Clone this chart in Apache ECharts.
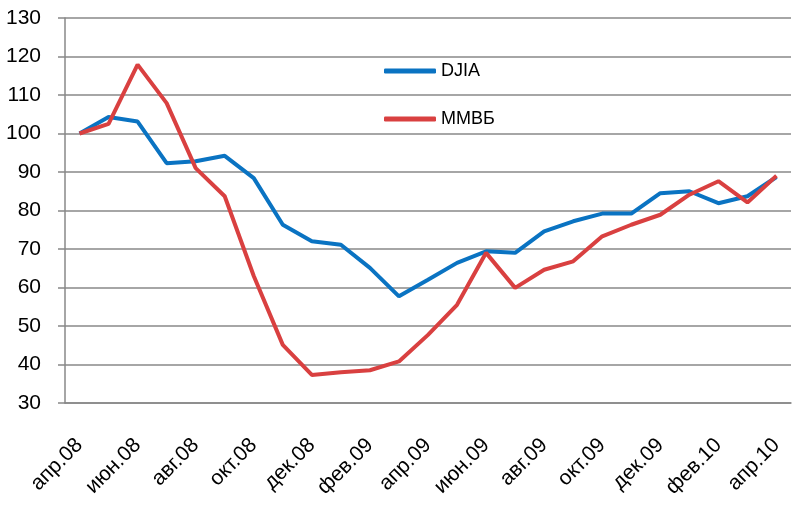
<!DOCTYPE html>
<html>
<head>
<meta charset="utf-8">
<script src="https://cdn.jsdelivr.net/npm/echarts@6/dist/echarts.min.js"></script>
<style>
    html, body { margin: 0; padding: 0; background: #fff; }
    #chart { width: 800px; height: 517px; }
</style>
</head>
<body>
<div id="chart"></div>
<script>
var months = ['апр.08', 'май.08', 'июн.08', 'июл.08', 'авг.08', 'сен.08', 'окт.08', 'ноя.08',
    'дек.08', 'янв.09', 'фев.09', 'мар.09', 'апр.09', 'май.09', 'июн.09', 'июл.09', 'авг.09',
    'сен.09', 'окт.09', 'ноя.09', 'дек.09', 'янв.10', 'фев.10', 'мар.10', 'апр.10'];

var djia = [100, 104.3, 103.1, 92.3, 92.8, 94.2, 88.4, 76.3, 72.0, 71.1, 65.1, 57.7, 62.0,
    66.4, 69.4, 69.0, 74.6, 77.2, 79.2, 79.2, 84.5, 85.0, 81.9, 83.7, 88.7];

var mmvb = [100, 102.5, 117.9, 107.9, 91.0, 83.7, 63.0, 45.1, 37.3, 38.0, 38.5, 40.8, 47.7,
    55.5, 69.0, 59.9, 64.6, 66.8, 73.3, 76.3, 78.9, 84.1, 87.6, 82.1, 89.0];

var gray = '#888888';
var font = 'Liberation Sans, Arial, sans-serif';

var chart = echarts.init(document.getElementById('chart'));

var option = {
    animation: false,
    color: ['#0a73c2', '#d94040'],
    grid: {
        left: 65,
        right: 9,
        top: 18,
        bottom: 114
    },
    legend: {
        orient: 'vertical',
        left: 384,
        top: 62,
        padding: 0,
        itemWidth: 52,
        itemHeight: 5,
        itemGap: 30,
        icon: 'roundRect',
        textStyle: {
            fontFamily: font,
            fontSize: 18,
            color: '#000'
        },
        data: ['DJIA', 'ММВБ']
    },
    xAxis: {
        type: 'category',
        data: months,
        boundaryGap: true,
        axisLine: { lineStyle: { color: gray, width: 1.5 } },
        axisTick: { interval: 1, length: 8, lineStyle: { color: gray, width: 1.5 } },
        axisLabel: {
            interval: 1,
            rotate: 45,
            margin: 39,
            fontFamily: font,
            fontSize: 21,
            color: '#000'
        }
    },
    yAxis: {
        type: 'value',
        min: 30,
        max: 130,
        interval: 10,
        axisLine: { show: true, lineStyle: { color: gray, width: 1.5 } },
        axisTick: { show: true, length: 7, lineStyle: { color: gray, width: 1.5 } },
        splitLine: { lineStyle: { color: gray, width: 1.5 } },
        axisLabel: {
            margin: 24,
            fontFamily: font,
            fontSize: 21,
            color: '#000'
        }
    },
    series: [
        {
            name: 'DJIA',
            type: 'line',
            data: djia,
            symbol: 'none',
            lineStyle: { width: 4 }
        },
        {
            name: 'ММВБ',
            type: 'line',
            data: mmvb,
            symbol: 'none',
            lineStyle: { width: 4 }
        }
    ]
};

chart.setOption(option);
</script>
</body>
</html>
